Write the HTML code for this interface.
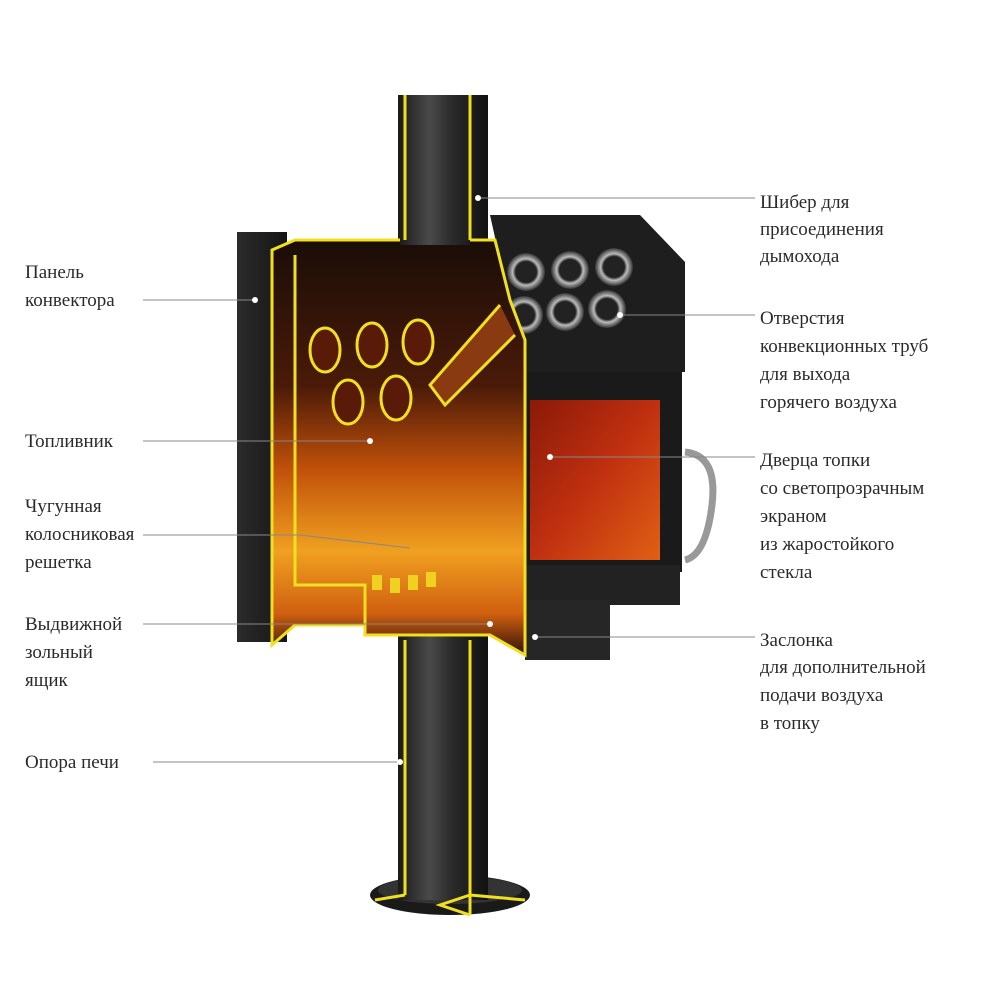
<!DOCTYPE html>
<html><head><meta charset="utf-8"><style>
html,body{margin:0;padding:0;background:#fff;}
svg{display:block;}
text{font-family:"Liberation Serif","Noto Serif CJK SC",serif;font-size:19px;fill:#2a2a2a;}
</style></head><body>
<svg width="1000" height="1000" viewBox="0 0 1000 1000" xmlns="http://www.w3.org/2000/svg">
<defs>
<linearGradient id="pipe" x1="0" x2="1" y1="0" y2="0">
<stop offset="0" stop-color="#1a1a1a"/><stop offset="0.35" stop-color="#4a4a4a"/><stop offset="0.6" stop-color="#2a2a2a"/><stop offset="1" stop-color="#111"/></linearGradient>
<linearGradient id="fire" x1="0" x2="0" y1="0" y2="1">
<stop offset="0" stop-color="#1a0d08"/><stop offset="0.35" stop-color="#4a1a08"/><stop offset="0.55" stop-color="#c0500a"/><stop offset="0.75" stop-color="#f0a020"/><stop offset="0.9" stop-color="#d06010"/><stop offset="1" stop-color="#301008"/></linearGradient>
<linearGradient id="glass" x1="0" x2="1" y1="0" y2="1">
<stop offset="0" stop-color="#8a1a08"/><stop offset="0.5" stop-color="#c03010"/><stop offset="1" stop-color="#e06015"/></linearGradient>
<linearGradient id="body" x1="0" x2="1">
<stop offset="0" stop-color="#2b2b2b"/><stop offset="1" stop-color="#151515"/></linearGradient>
<radialGradient id="hole"><stop offset="0.55" stop-color="#222"/><stop offset="0.7" stop-color="#bbb"/><stop offset="0.85" stop-color="#777"/><stop offset="1" stop-color="#333"/></radialGradient>
</defs>
<ellipse cx="450" cy="895" rx="80" ry="20" fill="#1a1a1a"/>
<ellipse cx="450" cy="890" rx="72" ry="14" fill="#333"/>
<rect x="398" y="95" width="90" height="150" fill="url(#pipe)"/>
<rect x="398" y="630" width="90" height="270" fill="url(#pipe)"/>
<path d="M405 95 V240 M470 95 V240 M405 640 V895 M470 640 V915" stroke="#f0e020" stroke-width="3" fill="none"/>
<path d="M375 900 L405 895 M470 915 L440 905 L470 895 L525 900" stroke="#f0e020" stroke-width="3" fill="none"/>
<rect x="237" y="232" width="50" height="410" fill="url(#body)"/>
<path d="M490 215 H640 L685 262 V372 H525 Z" fill="#1e1e1e"/>
<rect x="522" y="372" width="160" height="200" fill="#1a1a1a"/>
<rect x="530" y="400" width="130" height="160" fill="url(#glass)"/>
<rect x="522" y="565" width="158" height="40" fill="#222"/>
<rect x="525" y="600" width="85" height="60" fill="#262626"/>
<path d="M685 452 Q718 455 712 505 Q706 555 685 560" stroke="#999" stroke-width="7" fill="none"/>
<g fill="url(#hole)">
<circle cx="526" cy="272" r="19"/><circle cx="570" cy="270" r="19"/><circle cx="614" cy="267" r="19"/>
<circle cx="524" cy="315" r="19"/><circle cx="565" cy="312" r="19"/><circle cx="607" cy="309" r="19"/>
</g>
<path d="M272 250 L295 240 H400 V245 H470 V240 L495 240 L510 300 L525 340 V655 L490 635 H365 V625 H295 L272 645 Z" fill="url(#fire)"/>
<path d="M400 240 H295 L272 250 V645 L295 625 H365 V635 H490 L525 655 V340 L510 300 L495 240 H470" stroke="#f0e020" stroke-width="3" fill="none"/>
<path d="M295 255 V585 H365 V625" stroke="#f0e020" stroke-width="3" fill="none"/>
<path d="M500 305 L430 385 L445 405 L515 335" fill="#8a3a10" stroke="#f0e020" stroke-width="3"/>
<g fill="#5a1a08" stroke="#f0e020" stroke-width="3">
<ellipse cx="325" cy="350" rx="15" ry="22"/><ellipse cx="372" cy="345" rx="15" ry="22"/><ellipse cx="418" cy="342" rx="15" ry="22"/>
<ellipse cx="348" cy="402" rx="15" ry="22"/><ellipse cx="396" cy="398" rx="15" ry="22"/>
</g>
<g fill="#f0d020"><rect x="372" y="575" width="10" height="15"/><rect x="390" y="578" width="10" height="15"/><rect x="408" y="575" width="10" height="15"/><rect x="426" y="572" width="10" height="15"/></g>
<g stroke="#888" stroke-width="1" fill="none">
<path d="M143 300 H255"/><path d="M143 441 H370"/><path d="M143 535 H300 L410 548"/><path d="M143 624 H490"/><path d="M153 762 H400"/>
<path d="M755 198 H478"/><path d="M755 315 H620"/><path d="M755 457 H550"/><path d="M755 637 H535"/>
</g>
<g fill="#fff"><circle cx="255" cy="300" r="3"/><circle cx="370" cy="441" r="3"/><circle cx="490" cy="624" r="3"/><circle cx="400" cy="762" r="3"/><circle cx="478" cy="198" r="3"/><circle cx="620" cy="315" r="3"/><circle cx="550" cy="457" r="3"/><circle cx="535" cy="637" r="3"/></g>
<text x="25" y="278">Панель</text><text x="25" y="306">конвектора</text>
<text x="25" y="447">Топливник</text>
<text x="25" y="512">Чугунная</text><text x="25" y="540">колосниковая</text><text x="25" y="568">решетка</text>
<text x="25" y="630">Выдвижной</text><text x="25" y="658">зольный</text><text x="25" y="686">ящик</text>
<text x="25" y="768">Опора печи</text>
<text x="760" y="208">Шибер для</text><text x="760" y="235">присоединения</text><text x="760" y="262">дымохода</text>
<text x="760" y="324">Отверстия</text><text x="760" y="352">конвекционных труб</text><text x="760" y="380">для выхода</text><text x="760" y="408">горячего воздуха</text>
<text x="760" y="466">Дверца топки</text><text x="760" y="494">со светопрозрачным</text><text x="760" y="522">экраном</text><text x="760" y="550">из жаростойкого</text><text x="760" y="578">стекла</text>
<text x="760" y="646">Заслонка</text><text x="760" y="673">для дополнительной</text><text x="760" y="701">подачи воздуха</text><text x="760" y="729">в топку</text>
</svg>
</body></html>
